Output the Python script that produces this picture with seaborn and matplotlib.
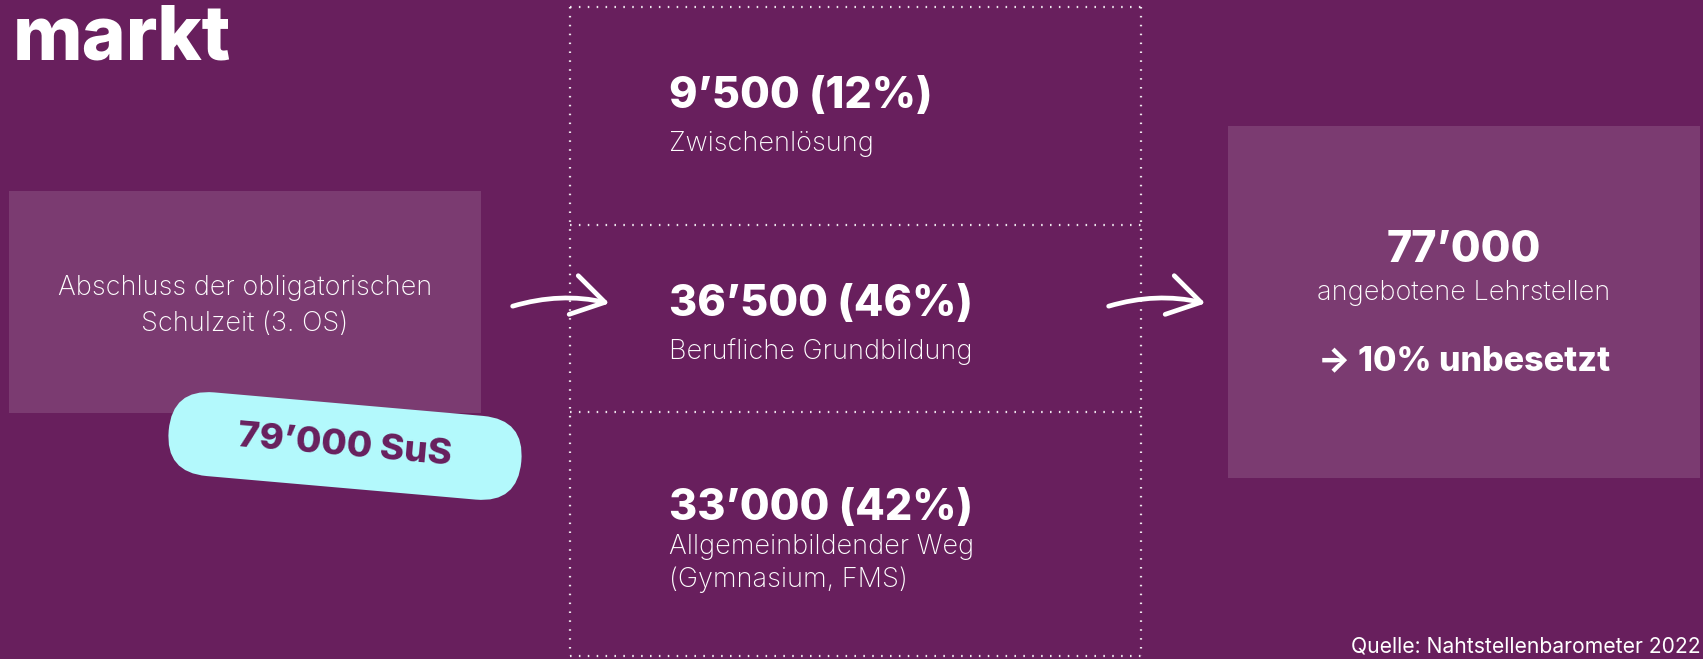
"""Infographic: Übergang von der obligatorischen Schule in den Lehrstellenmarkt."""

import matplotlib.pyplot as plt
import seaborn as sns
from matplotlib.patches import FancyArrowPatch, FancyBboxPatch, Rectangle
from matplotlib.transforms import Affine2D

# data
students_total = 79000
start_label = "Abschluss der obligatorischen\nSchulzeit (3. OS)"
path_labels = ["Zwischenlösung", "Berufliche Grundbildung", "Allgemeinbildender Weg\n(Gymnasium, FMS)"]
path_counts = [9500, 36500, 33000]
path_shares = [12, 46, 42]
apprenticeships = 77000
apprenticeship_label = "angebotene Lehrstellen"
unfilled_share = 10
source = "Quelle: Nahtstellenbarometer 2022"

BG = "#681f5d"
BOX = "#7b3b71"
PILL = "#b3f9fc"

sns.set_theme(style="white", rc={"figure.facecolor": BG, "axes.facecolor": BG})
plt.rcParams["font.family"] = ["Inter", "DejaVu Sans"]


def fmt(n: int) -> str:
    return f"{n:,}".replace(",", "\u2019")


fig = plt.figure(figsize=(17.03, 6.59), dpi=100)
ax = fig.add_axes([0, 0, 1, 1])
ax.set_xlim(0, 1703)
ax.set_ylim(659, 0)
ax.set_axis_off()

# title fragment cut at top
ax.text(13, 59, "markt", color="white", fontsize=54, fontweight="heavy", va="baseline", ha="left")

# left box
ax.add_patch(Rectangle((9, 191), 472, 222, color=BOX, lw=0))
ax.text(245, 306, start_label, color="white", fontsize=19.5, fontweight="light",
        ha="center", va="center", linespacing=1.5)

# pill
cx, cy, pw, ph = 345, 446, 354, 84
pill = FancyBboxPatch((cx - pw / 2, cy - ph / 2), pw, ph,
                      boxstyle=f"round,pad=0,rounding_size={ph / 2}", color=PILL, lw=0)
pill.set_transform(Affine2D().rotate_deg_around(cx, cy, 5) + ax.transData)
ax.add_patch(pill)
ax.text(cx, cy, f"{fmt(students_total)} SuS", color=BG, fontsize=26.5, fontweight="heavy",
        ha="center", va="center", rotation=-5, rotation_mode="anchor")

# dotted grid of paths
rows = [7, 225, 412, 656]
dot = dict(color="white", lw=1.6, ls=(0, (0.7, 3.3)), alpha=0.9, solid_capstyle="round")
for y in rows:
    ax.plot([570, 1141], [y, y], **dot)
ax.plot([570, 570], [rows[0], rows[-1]], **dot)
ax.plot([1141, 1141], [rows[0], rows[-1]], **dot)

num_y = [97, 304, 509]
sub_y = [144, 352, 547]
for y, sy, label, n, share in zip(num_y, sub_y, path_labels, path_counts, path_shares):
    ax.text(669, y, f"{fmt(n)} ({share}%)", color="white", fontsize=31, fontweight="heavy",
            ha="left", va="center")
    for i, line in enumerate(label.split("\n")):
        ax.text(669, sy + 33 * i, line, color="white", fontsize=19.5, fontweight="light",
                ha="left", va="center")

# arrows
for x0, x1 in [(510, 612), (1106, 1208)]:
    ax.add_patch(FancyArrowPatch((x0, 307), (x1, 304), connectionstyle="arc3,rad=-0.14",
                                 arrowstyle="->,head_length=1.05,head_width=0.65",
                                 mutation_scale=22, color="white", lw=3.4,
                                 capstyle="round", joinstyle="round"))

# right box
ax.add_patch(Rectangle((1228, 126), 472, 352, color=BOX, lw=0))
ax.text(1464, 251, fmt(apprenticeships), color="white", fontsize=31, fontweight="heavy",
        ha="center", va="center")
ax.text(1464, 293, apprenticeship_label, color="white", fontsize=19.5, fontweight="light",
        ha="center", va="center")
ax.text(1464, 361, f"\u2192 {unfilled_share}% unbesetzt", color="white", fontsize=24.5,
        fontweight="heavy", ha="center", va="center")

ax.text(1701, 646, source, color="white", fontsize=15.2, ha="right", va="center")

fig.savefig("out.png", dpi=100, facecolor=BG)
